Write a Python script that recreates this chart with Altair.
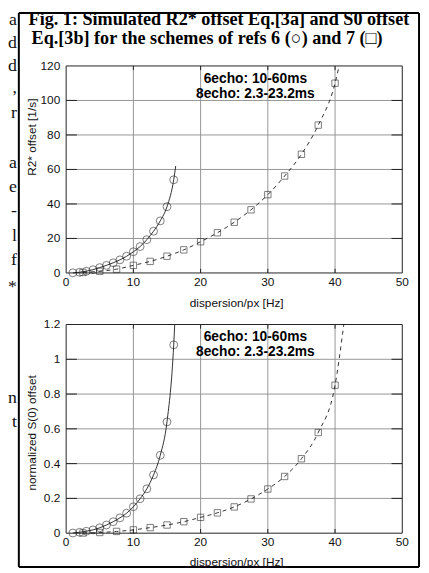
import altair as alt
import pandas as pd

# ---------------- page geometry ----------------
W, H = 419, 565          # whole drawing (page starts 8px in)
M = 8                    # page margin

# ---------------- data ----------------
side_chars = ["a", "d", "d", ",", "r", "a", "e", "-", "l", "f", "*", "n", "t"]
side_base = [21, 44, 68, 90, 116, 166, 191, 215, 240, 265, 292, 405, 429]

title_lines = ["Fig. 1: Simulated R2* offset Eq.[3a] and S0 offset",
               "Eq.[3b] for the schemes of refs 6 (○) and 7 (□)"]
note_lines = ["6echo: 10-60ms", "8echo: 2.3-23.2ms"]
x_title = "dispersion/px [Hz]"
y_title_top = "R2* offset [1/s]"
y_title_bot = "normalized S(0) offset"

x_ticks = [0, 10, 20, 30, 40, 50]
x_tick_labels = ["0", "10", "20", "30", "40", "50"]
r2_ticks = [0, 20, 40, 60, 80, 100, 120]
r2_tick_labels = ["0", "20", "40", "60", "80", "100", "120"]
s0_ticks = [0, 0.2, 0.4, 0.6, 0.8, 1, 1.2]
s0_tick_labels = ["0", "0.2", "0.4", "0.6", "0.8", "1", "1.2"]

disp_circ = [1, 2, 3, 4, 5, 6, 7, 8, 9, 10, 11, 12, 13, 14, 15, 16]
disp_sq = [2.5, 5, 7.5, 10, 12.5, 15, 17.5, 20, 22.5, 25, 27.5, 30, 32.5, 35, 37.5, 40]
r2_circ = [0.1, 0.4, 1.0, 1.9, 3.1, 4.4, 5.9, 7.6, 9.7, 12.3, 15.3, 19.3, 24.2, 30.2, 38.4, 54.0]
r2_sq = [0.3, 1.0, 2.2, 4.4, 6.7, 9.7, 13.4, 18.1, 23.3, 29.4, 36.6, 45.4, 56.2, 68.8, 85.7, 110.0]
s0_circ = [0.001, 0.005, 0.011, 0.019, 0.031, 0.047, 0.066, 0.088, 0.115, 0.152, 0.198,
           0.255, 0.335, 0.448, 0.640, 1.083]
s0_sq = [0.001, 0.004, 0.010, 0.019, 0.032, 0.047, 0.066, 0.091, 0.117, 0.151, 0.197,
         0.254, 0.326, 0.428, 0.579, 0.851]

# where each curve stops / leaves the frame
r2_circ_end = (16.3, 62.0)
r2_sq_end = (40.6, 120.0)
s0_circ_end = (16.15, 1.2)
s0_sq_end = (41.3, 1.2)

FONT = "Liberation Sans"
SERIF = "Liberation Serif"
INK = "#111111"
GRID = "#959595"

# plot rectangles in page pixels
PX0, PX1 = 67, 408
TOP_Y0, TOP_Y1 = 272.7, 62.7
BOT_Y0, BOT_Y1 = 536.7, 325.0
TICK_FRAC = 0.02   # inward tick length as a fraction of each axis

xs = alt.Scale(domain=[0, 50], range=[PX0 - M, PX1 - M], nice=False, zero=False)


def panel(ys, ymax, yticks, ylabels, xc, yc, xsq, ysq, endc, ends):
    X = lambda f: alt.X(f, scale=xs, axis=None)
    Y = lambda f: alt.Y(f, scale=ys, axis=None)
    tx = 50 * TICK_FRAC * 1.6
    ty = ymax * TICK_FRAC

    gx = pd.DataFrame({"v": x_ticks[1:-1], "lo": 0, "hi": ymax})
    gy = pd.DataFrame({"v": yticks[1:-1], "lo": 0, "hi": 50})
    tick_x = pd.DataFrame({"v": x_ticks[1:-1] * 2,
                           "a": [0] * 4 + [ymax - ty] * 4,
                           "b": [ty] * 4 + [ymax] * 4})
    tick_y = pd.DataFrame({"v": yticks[1:-1] * 2,
                           "a": [0] * 5 + [50 - tx] * 5,
                           "b": [tx] * 5 + [50] * 5})
    box = pd.DataFrame({"x0": [0], "x1": [50], "y0": [0], "y1": [ymax]})
    xl = pd.DataFrame({"v": x_ticks, "lab": x_tick_labels, "base": 0})
    yl = pd.DataFrame({"v": yticks, "lab": ylabels, "base": 0})
    pc = pd.DataFrame({"x": xc, "y": yc})
    ps = pd.DataFrame({"x": xsq, "y": ysq})
    lc = pd.DataFrame({"x": xc + [endc[0]], "y": yc + [endc[1]]})
    ls = pd.DataFrame({"x": xsq + [ends[0]], "y": ysq + [ends[1]]})

    grid_x = alt.Chart(gx).mark_rule(color=GRID, strokeWidth=1).encode(
        x=X("v:Q"), y=Y("lo:Q"), y2="hi:Q")
    grid_y = alt.Chart(gy).mark_rule(color=GRID, strokeWidth=1).encode(
        y=Y("v:Q"), x=X("lo:Q"), x2="hi:Q")
    ticks_x = alt.Chart(tick_x).mark_rule(color="#222222", strokeWidth=1).encode(
        x=X("v:Q"), y=Y("a:Q"), y2="b:Q")
    ticks_y = alt.Chart(tick_y).mark_rule(color="#222222", strokeWidth=1).encode(
        y=Y("v:Q"), x=X("a:Q"), x2="b:Q")
    frame = alt.Chart(box).mark_rect(color="white", fillOpacity=0, stroke="#222222",
                                     strokeWidth=1).encode(
        x=X("x0:Q"), x2="x1:Q", y=Y("y0:Q"), y2="y1:Q")
    xlab = alt.Chart(xl).mark_text(font=FONT, fontSize=12, color=INK, align="center",
                                   baseline="alphabetic", dy=13).encode(
        x=X("v:Q"), y=Y("base:Q"), text="lab:N")
    ylab = alt.Chart(yl).mark_text(font=FONT, fontSize=12, color=INK, align="right",
                                   baseline="middle", dx=-6).encode(
        x=X("base:Q"), y=Y("v:Q"), text="lab:N")
    line_c = alt.Chart(lc).mark_line(interpolate="monotone", color="#1a1a1a",
                                     strokeWidth=0.9).encode(x=X("x:Q"), y=Y("y:Q"))
    line_s = alt.Chart(ls).mark_line(interpolate="monotone", color="#1a1a1a",
                                     strokeWidth=0.9, strokeDash=[4, 4]).encode(
        x=X("x:Q"), y=Y("y:Q"))
    pts_c = alt.Chart(pc).mark_point(shape="circle", filled=False, size=64,
                                     color="#1a1a1a", strokeWidth=0.8).encode(
        x=X("x:Q"), y=Y("y:Q"))
    pts_s = alt.Chart(ps).mark_point(shape="square", filled=False, size=42,
                                     color="#1a1a1a", strokeWidth=0.8).encode(
        x=X("x:Q"), y=Y("y:Q"))
    return alt.layer(grid_x, grid_y, ticks_x, ticks_y, frame, xlab, ylab,
                     line_c, line_s, pts_c, pts_s)


ys_top = alt.Scale(domain=[0, 120], range=[TOP_Y0 - M, TOP_Y1 - M], nice=False, zero=False)
ys_bot = alt.Scale(domain=[0, 1.2], range=[BOT_Y0 - M, BOT_Y1 - M], nice=False, zero=False)

top = panel(ys_top, 120, r2_ticks, r2_tick_labels, disp_circ, r2_circ, disp_sq, r2_sq,
            r2_circ_end, r2_sq_end)
bot = panel(ys_bot, 1.2, s0_ticks, s0_tick_labels, disp_circ, s0_circ, disp_sq, s0_sq,
            s0_circ_end, s0_sq_end)


# ---------------- decorations in page pixels ----------------
def text_layer(df, **kw):
    return alt.Chart(df).mark_text(**kw).encode(
        x=alt.X("px:Q", scale=None, axis=None),
        y=alt.Y("py:Q", scale=None, axis=None),
        text="t:N")


side = text_layer(pd.DataFrame({"t": side_chars, "px": 17 - M,
                                "py": [b - M for b in side_base]}),
                  font=SERIF, fontSize=18, align="right", baseline="alphabetic", color=INK)

title1 = text_layer(pd.DataFrame({"t": [title_lines[0]], "px": [222 - M], "py": [21 - M]}),
                    font=SERIF, fontSize=18.4, fontWeight="bold", align="center",
                    baseline="alphabetic", color="#000000")
title2 = text_layer(pd.DataFrame({"t": [title_lines[1]], "px": [210 - M], "py": [40 - M]}),
                    font=SERIF, fontSize=18.4, fontWeight="bold", align="center",
                    baseline="alphabetic", color="#000000")

notes = text_layer(pd.DataFrame({"t": note_lines * 2, "px": 259 - M,
                                 "py": [80 - M, 95.7 - M, 341.7 - M, 356.7 - M]}),
                   font=FONT, fontSize=14, fontWeight="bold", align="center",
                   baseline="alphabetic", color="#000000")

xtitles = text_layer(pd.DataFrame({"t": [x_title, x_title], "px": 240 - M,
                                   "py": [307 - M, 570 - M]}),
                     font=FONT, fontSize=12, align="center", baseline="alphabetic", color=INK)

ytitles = text_layer(pd.DataFrame({"t": [y_title_top, y_title_bot], "px": 36 - M,
                                   "py": [135 - M, 435 - M]}),
                     font=FONT, fontSize=12, align="center", baseline="alphabetic",
                     angle=270, color=INK)

FL, FR, FT, FB = 19, 425, 9, 571
border = pd.DataFrame({
    "x1": [FL - M, FR - M, FL - M, FL - M],
    "x2": [FL - M, FR - M, FR - M, FR - M],
    "y1": [FT - M, FT - M, FT - M, FB - M],
    "y2": [FB - M, FB - M, FT - M, FB - M],
})
outer = alt.Chart(border).mark_rule(color="#000000", strokeWidth=2).encode(
    x=alt.X("x1:Q", scale=None, axis=None), x2="x2:Q",
    y=alt.Y("y1:Q", scale=None, axis=None), y2="y2:Q")

chart = alt.layer(top, bot, outer, side, title1, title2, notes, xtitles, ytitles).resolve_scale(
    x="independent", y="independent"
).properties(
    width=W, height=H, padding=0, autosize=alt.AutoSizeParams(type="none"),
    background="white"
).configure_view(strokeWidth=0)

chart.save("out.html", embed_options={"renderer": "svg", "actions": False})
